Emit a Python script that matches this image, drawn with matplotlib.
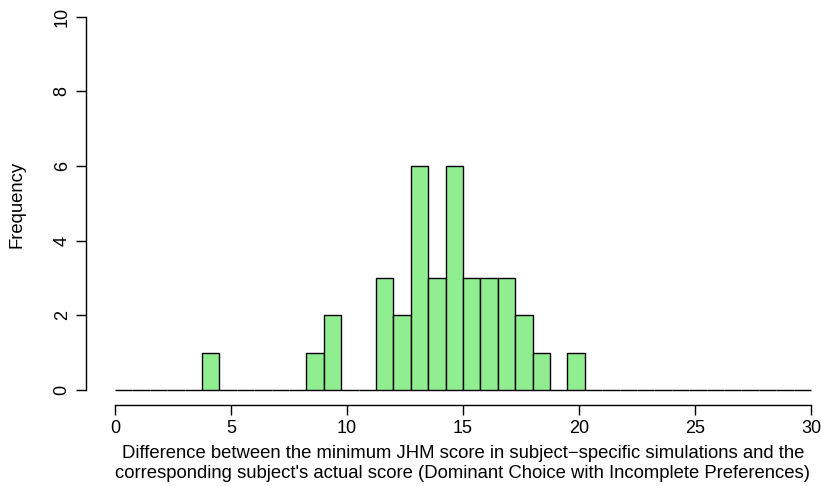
import numpy as np
import matplotlib.pyplot as plt

plt.rcParams['font.family'] = ['Liberation Sans', 'DejaVu Sans']

# histogram bins: width 0.75 from 0 to 30
bin_width = 0.75
bin_edges = np.arange(0, 30 + bin_width / 2, bin_width)
counts = [0, 0, 0, 0, 0, 1, 0, 0, 0, 0,
          0, 1, 2, 0, 0, 3, 2, 6, 3, 6,
          3, 3, 3, 2, 1, 0, 1, 0, 0, 0,
          0, 0, 0, 0, 0, 0, 0, 0, 0, 0]
x_ticks = [0, 5, 10, 15, 20, 25, 30]
y_ticks = [0, 2, 4, 6, 8, 10]

fig = plt.figure(figsize=(8.21, 4.86), dpi=100)
ax = fig.add_axes([86 / 821, 81 / 486, 729 / 821, 390 / 486])

ax.bar(bin_edges[:-1], counts, width=bin_width, align='edge',
       color='#90EE90', edgecolor='black', linewidth=1.0)

ax.set_xlim(-1.25, 30.17)
ax.set_ylim(-0.402, 10.05)

for s in ['top', 'right']:
    ax.spines[s].set_visible(False)
ax.spines['left'].set_bounds(0, 10)
ax.spines['bottom'].set_bounds(0, 30)
for s in ['left', 'bottom']:
    ax.spines[s].set_linewidth(1.0)

ax.set_xticks(x_ticks)
ax.set_yticks(y_ticks)
ax.tick_params(axis='both', length=7, width=1.0, labelsize=13, direction='out')
ax.tick_params(axis='y', pad=4)
plt.setp(ax.get_yticklabels(), rotation=90, va='center')

ax.set_ylabel('Frequency', fontsize=13.3, labelpad=20)
ax.set_xlabel("Difference between the minimum JHM score in subject\u2212specific simulations and the\n"
              "corresponding subject's actual score (Dominant Choice with Incomplete Preferences)",
              fontsize=13.3, labelpad=6, linespacing=1.2)
# center the labels on the data span rather than the axes box
ax.xaxis.label.set_x(0.517)
ax.yaxis.label.set_y(0.513)

fig.savefig('out.png', dpi=100)
